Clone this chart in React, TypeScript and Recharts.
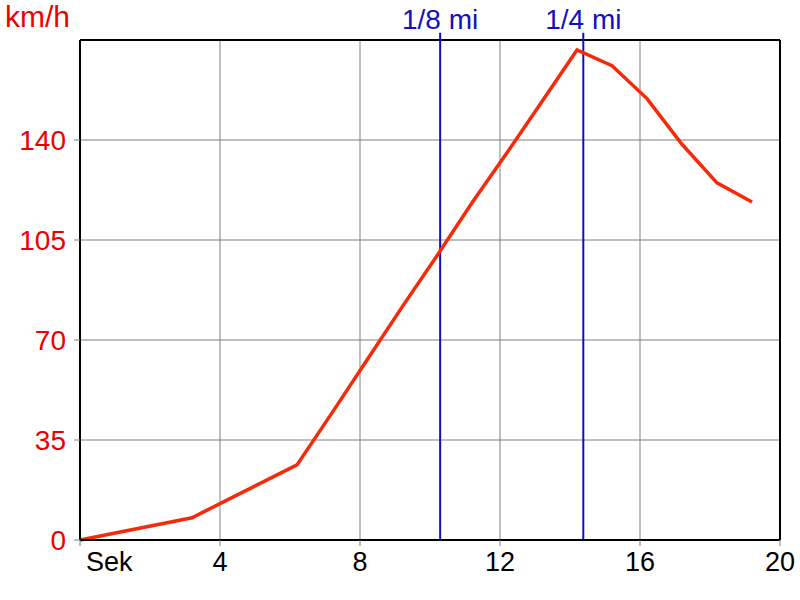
import React from 'react';
import { LineChart, Line, XAxis, YAxis, CartesianGrid, ReferenceLine } from 'recharts';

// time in seconds vs speed in km/h
const seconds = [0, 3.2, 6.2, 7.2, 8.2, 9.2, 10.2, 11.2, 12.2, 13.2, 14.2, 15.2, 16.2, 17.2, 18.2, 19.2];
const speeds = [0, 7.8, 26.3, 44.5, 63, 81.5, 99.5, 118, 135.5, 153.5, 171.5, 166, 154.5, 138.5, 125, 118.3];

const xTicks = [0, 4, 8, 12, 16, 20];
const yTicks = [0, 35, 70, 105, 140];

const markers = [
  { x: 10.29, label: '1/8 mi' },
  { x: 14.38, label: '1/4 mi' },
];

const data = seconds.map((t, i) => ({ t, v: speeds[i] }));

const FONT = '"Liberation Sans", Arial, sans-serif';
const RED = '#ee0000';
const BLUE = '#1010c0';

const XTick = (props: any) => {
  const { x, y, payload } = props;
  const first = payload.value === 0;
  return (
    <text
      x={first ? x + 6 : x}
      y={y + 23}
      textAnchor={first ? 'start' : 'middle'}
      fontSize={27}
      fontFamily={FONT}
      fill="#000"
    >
      {first ? 'Sek' : payload.value}
    </text>
  );
};

const App = () => {
  return (
    <div style={{ position: 'absolute', left: 0, top: 0, width: 800, height: 600, background: '#fff' }}>
      <div
        style={{
          position: 'absolute',
          left: 5,
          top: 0,
          fontFamily: FONT,
          fontSize: 30,
          lineHeight: '34px',
          color: RED,
        }}
      >
        km/h
      </div>
      <LineChart width={800} height={600} data={data} margin={{ top: 40, right: 20, bottom: 0, left: 0 }}>
        <CartesianGrid stroke="#808080" strokeWidth={1} />
        <XAxis
          dataKey="t"
          type="number"
          domain={[0, 20]}
          ticks={xTicks}
          height={60}
          tick={<XTick />}
          tickLine={{ stroke: '#808080' }}
          axisLine={{ stroke: '#000', strokeWidth: 2 }}
          interval={0}
        />
        <YAxis
          type="number"
          domain={[0, 175]}
          ticks={yTicks}
          width={80}
          tickMargin={8}
          tick={{ fill: RED, fontSize: 28, fontFamily: FONT }}
          tickLine={{ stroke: '#808080' }}
          axisLine={{ stroke: '#000', strokeWidth: 2 }}
          interval={0}
        />
        <ReferenceLine y={175} stroke="#000" strokeWidth={2} />
        <ReferenceLine x={20} stroke="#000" strokeWidth={2} />
        {markers.map((m) => (
          <ReferenceLine
            key={m.label}
            segment={[
              { x: m.x, y: 0 },
              { x: m.x, y: 177.5 },
            ]}
            ifOverflow="visible"
            stroke={BLUE}
            strokeWidth={2}
            label={{ value: m.label, position: 'top', offset: 4, fill: BLUE, fontSize: 28, fontFamily: FONT }}
          />
        ))}
        <Line
          type="linear"
          dataKey="v"
          stroke="#f52a0a"
          strokeWidth={3.5}
          dot={false}
          isAnimationActive={false}
        />
      </LineChart>
    </div>
  );
};

export default App;
